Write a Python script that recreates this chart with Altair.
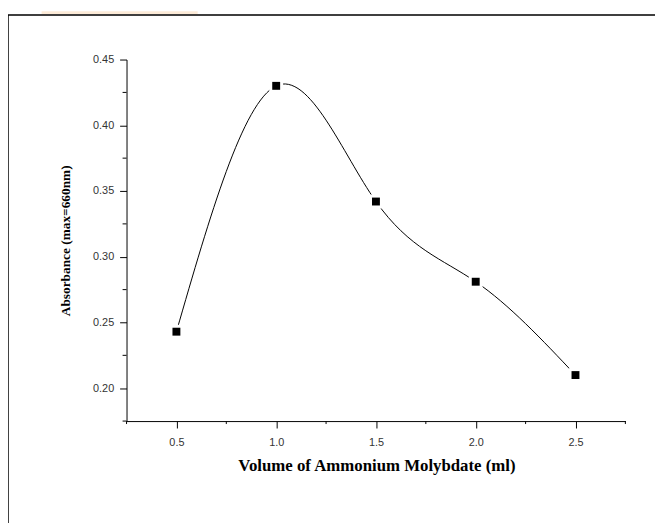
import altair as alt
import pandas as pd

# ---- data ----
volume = [0.5, 1.0, 1.5, 2.0, 2.5]
absorbance = [0.243, 0.430, 0.342, 0.281, 0.210]
x_major_ticks = [0.5, 1.0, 1.5, 2.0, 2.5]
x_minor_ticks = [0.25, 0.75, 1.25, 1.75, 2.25, 2.75]
y_major_ticks = [0.20, 0.25, 0.30, 0.35, 0.40, 0.45]
y_minor_ticks = [0.175, 0.225, 0.275, 0.325, 0.375, 0.425]
x_title = "Volume of Ammonium Molybdate (ml)"
y_title = "Absorbance (max=660nm)"

df = pd.DataFrame({"volume": volume, "absorbance": absorbance})
xminor = pd.DataFrame({"volume": x_minor_ticks})
yminor = pd.DataFrame({"absorbance": y_minor_ticks})
one = pd.DataFrame({"k": [0]})

W, H = 505, 366

xscale = alt.Scale(domain=[0.25, 2.75], nice=False, zero=False)
yscale = alt.Scale(domain=[0.175, 0.45], nice=False, zero=False)

x_axis = alt.Axis(
    values=x_major_ticks,
    format=".1f",
    title=x_title,
    grid=False,
    tickSize=7,
    labelPadding=9,
    labelOverlap=False,
    titleFont="Liberation Serif",
    titleFontWeight="bold",
    titleFontSize=17,
    titleColor="black",
    titleX=253,
    titleY=45,
    titleBaseline="middle",
    titleAlign="center",
)
y_axis = alt.Axis(
    values=y_major_ticks,
    format=".2f",
    title=y_title,
    grid=False,
    tickSize=7,
    labelPadding=6,
    labelOverlap=False,
    titleFont="Liberation Serif",
    titleFontWeight="bold",
    titleFontSize=13.5,
    titleColor="black",
    titlePadding=20,
)

X = alt.X("volume:Q", scale=xscale, axis=x_axis)
Y = alt.Y("absorbance:Q", scale=yscale, axis=y_axis)

frame = alt.Chart(one).mark_rect(
    filled=False, stroke="black", strokeWidth=1.5, clip=False
).encode(
    x=alt.value(-120), x2=alt.value(W + 200),
    y=alt.value(-45), y2=alt.value(H + 200),
)

band = alt.Chart(one).mark_rect(fill="#fdebd8", clip=False).encode(
    x=alt.value(-86), x2=alt.value(72),
    y=alt.value(-49), y2=alt.value(-46),
)

line = alt.Chart(df).mark_line(
    interpolate="natural", color="black", strokeWidth=1
).encode(x=X, y=Y)

points_halo = alt.Chart(df).mark_square(
    size=64, color="white", filled=True, stroke="white", strokeWidth=6, opacity=1
).encode(x=X, y=Y)

points = alt.Chart(df).mark_square(
    size=64, color="black", filled=True, opacity=1
).encode(x=X, y=Y)

x_minor_rules = alt.Chart(xminor).mark_rule(color="black", strokeWidth=1, clip=False).encode(
    x=X,
    y=alt.value(H),
    y2=alt.value(H + 3),
)

y_minor_rules = alt.Chart(yminor).mark_rule(color="black", strokeWidth=1, clip=False).encode(
    y=Y,
    x=alt.value(-4),
    x2=alt.value(0),
)

chart = alt.layer(
    line, points_halo, points, x_minor_rules, y_minor_rules, band, frame
).properties(
    width=W,
    height=H,
    padding={"left": 120, "top": 49, "right": 30, "bottom": 100},
    autosize=alt.AutoSizeParams(type="none"),
    background="white",
).configure_view(stroke=None).configure_axis(
    domainColor="black",
    domainWidth=1,
    tickColor="black",
    tickWidth=1,
    labelFont="Liberation Sans",
    labelFontSize=11,
    labelColor="#333333",
)

chart.save("out.html", embed_options={"renderer": "svg", "actions": False})
